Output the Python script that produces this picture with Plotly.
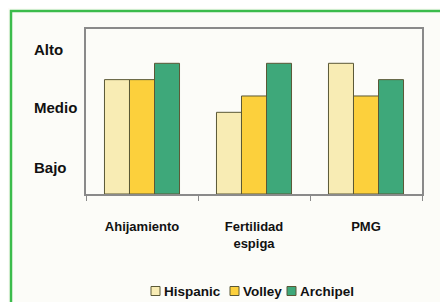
import plotly.graph_objects as go

categories = ["Ahijamiento", "Fertilidad<br>espiga", "PMG"]
series_names = ["Hispanic", "Volley", "Archipel"]
hispanic = [7, 5, 8]
volley = [7, 6, 6]
archipel = [8, 8, 7]
level_labels = ["Alto", "Medio", "Bajo"]
level_values = [8.82, 5.28, 1.6]

colors = ["#f8ecb4", "#fcd03c", "#3ea87a"]
outline = "#5a5836"
values = [hispanic, volley, archipel]

# plot area geometry (figure pixels)
W, H = 440, 294
ML, MR, MT, MB = 78, 26, 21, 108
PW = W - ML - MR
PH = H - MT - MB


def px_x(x):
    return (x - ML) / PW


def px_y(y):
    return (H - MB - y) / PH


fig = go.Figure()
for name, vals, col in zip(series_names, values, colors):
    fig.add_trace(go.Bar(
        x=categories, y=vals, name=name, showlegend=False,
        marker=dict(color=col, line=dict(color=outline, width=1)),
    ))

for lab, val in zip(level_labels, level_values):
    fig.add_annotation(
        x=px_x(24), xref="paper", y=val, yref="y", text="<b>%s</b>" % lab,
        showarrow=False, xanchor="left", yanchor="middle",
        font=dict(family="Arial, Liberation Sans", size=15, color="#111"),
    )

# manual legend
legend_x = [143, 222, 279]
legend_y = 283
for name, col, lx in zip(series_names, colors, legend_x):
    fig.add_shape(type="rect", xref="paper", yref="paper",
                  x0=px_x(lx), x1=px_x(lx + 9), y0=px_y(legend_y - 4.5), y1=px_y(legend_y + 4.5),
                  line=dict(color=outline, width=1), fillcolor=col)
    fig.add_annotation(x=px_x(lx + 11), xref="paper", y=px_y(legend_y), yref="paper",
                       text="<b>%s</b>" % name, showarrow=False, xanchor="left", yanchor="middle",
                       font=dict(family="Arial, Liberation Sans", size=13.5, color="#111"))

fig.add_shape(type="rect", xref="paper", yref="paper",
              x0=px_x(3), x1=px_x(470), y0=px_y(330), y1=px_y(3),
              line=dict(color="#3cbc4c", width=2.5), fillcolor="rgba(0,0,0,0)", layer="above")

fig.update_layout(
    width=W, height=H,
    margin=dict(l=ML, r=MR, t=MT, b=MB),
    paper_bgcolor="#fcfcf8", plot_bgcolor="#fcfcf8",
    barmode="group", bargap=0.33, bargroupgap=0,
    font=dict(family="Arial, Liberation Sans", size=12, color="#111"),
    showlegend=False,
    xaxis=dict(showline=True, linecolor="#8a8a8a", linewidth=1.5, mirror=True,
               ticks="outside", tickson="boundaries", ticklen=5, tickcolor="#8a8a8a",
               tickfont=dict(size=13, weight="bold"), ticklabelstandoff=20,
               showgrid=False),
    yaxis=dict(range=[0, 10.1], showline=True, linecolor="#8a8a8a", linewidth=1.5, mirror=True,
               showticklabels=False, showgrid=False, zeroline=False, ticks=""),
)

fig.write_html("out.html")
